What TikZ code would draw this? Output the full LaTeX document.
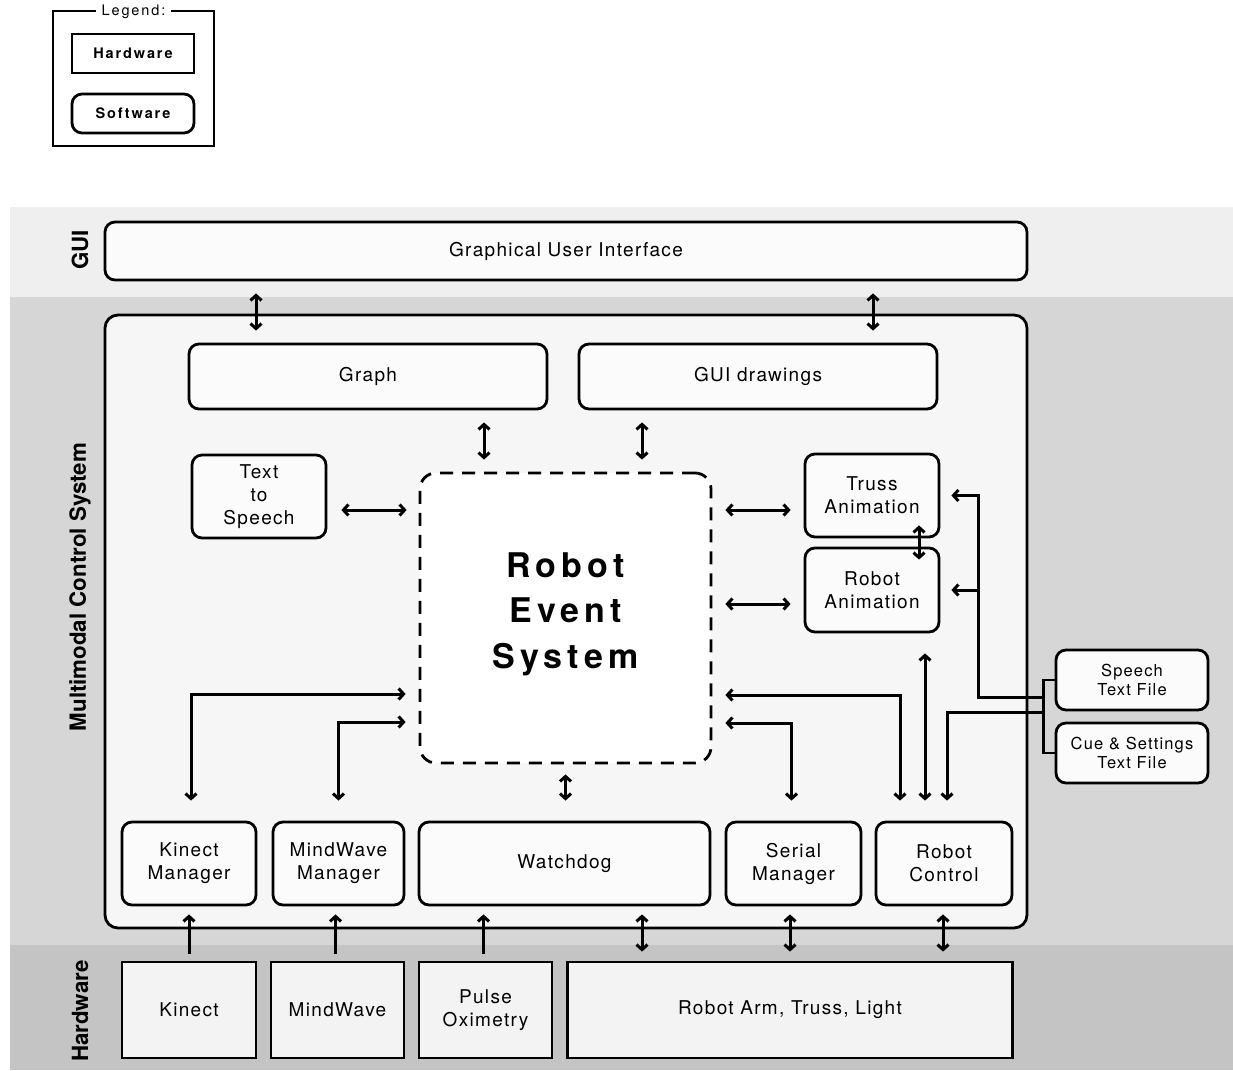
\documentclass[tikz,border=0pt]{standalone}
\usepackage{fontspec}
\setmainfont{TeX Gyre Heros}
\newfontfamily\spacedFont[LetterSpace=7]{TeX Gyre Heros}
\newfontfamily\keyFont[LetterSpace=13]{TeX Gyre Heros}
\newfontfamily\titleFont[LetterSpace=15]{TeX Gyre Heros}
\newcommand{\boxText}{\spacedFont\fontsize{19}{23}\selectfont}
\usepackage{xcolor}
\definecolor{mainDark}{HTML}{000000}
\definecolor{guiBand}{HTML}{EFEFEF}
\definecolor{mcsBand}{HTML}{D6D6D6}
\definecolor{hwBand}{HTML}{C4C4C4}
\definecolor{panelColor}{HTML}{F6F6F6}
\definecolor{swColor}{HTML}{FBFBFB}
\definecolor{hwColor}{HTML}{F3F3F3}
\usepackage{tikz}
\usetikzlibrary{positioning,calc,arrows.meta}
\tikzset{
  swBox/.style={
    rectangle,
    rounded corners=10pt,
    draw=mainDark,
    line width=2.8pt,
    fill=swColor,
    inner sep=0pt,
    align=center,
    font=\boxText
 },
  hwBox/.style={
    rectangle,
    draw=mainDark,
    line width=2.8pt,
    fill=hwColor,
    inner sep=0pt,
    align=center,
    font=\boxText
 },
  groupBox/.style={
    swBox,
    rounded corners=13pt,
    fill=panelColor
 },
  eventBox/.style={
    swBox,
    rounded corners=16pt,
    fill=white,
    dash pattern=on 13pt off 9pt,
    text depth=15pt,
    font=\titleFont\bfseries\fontsize{34}{45.5}\selectfont
 },
  bandLabel/.style={
    rotate=90,
    font=\bfseries\fontsize{22.3}{26}\selectfont
 },
  keyBox/.style={
    minimum width=122pt,
    minimum height=39pt,
    fill=white,
    font=\keyFont\bfseries\fontsize{14.5}{17}\selectfont
 },
  arrowLine/.style={
    line width=3pt,
    color=mainDark,
    >={Straight Barb[length=5pt,width=11pt]},
    shorten <=12pt,
    shorten >=12pt
 },
  linkLine/.style={
    line width=2.8pt,
    color=mainDark
 }
}

\begin{document}
\begin{tikzpicture}[x=1pt,y=-1pt]
  \useasboundingbox (0,0) rectangle (1233,1070);

  % layer bands
  \fill[guiBand] (10,207) rectangle (1233,297);
  \fill[mcsBand] (10,297) rectangle (1233,945);
  \fill[hwBand] (10,945) rectangle (1233,1070);
  \node[bandLabel] (guiLabel) at (80,250) {GUI};
  \node[bandLabel] (mcsLabel) at (80,587) {Multimodal Control System};
  \node[bandLabel] (hwLabel) at (80,1011) {Hardware};

  % legend
  \draw[linkLine] (53,11) rectangle (214,146);
  \node[fill=white, inner xsep=6pt, inner ysep=1pt, font=\keyFont\fontsize{14.5}{17}\selectfont] (legendTitle) at (133.5,12) {Legend:};
  \node[hwBox, keyBox] (hwKey) at (133,53.5) {Hardware};
  \node[swBox, keyBox] (swKey) at (133,113.5) {Software};

  % software
  \node[swBox, minimum width=922pt, minimum height=58pt] (gui) at (566,251) {Graphical User Interface};
  \node[groupBox, minimum width=922pt, minimum height=613pt] (mcs) at (566,621.5) {};
  \node[swBox, minimum width=358pt, minimum height=65pt] (graph) at (368,376.5) {Graph};
  \node[swBox, minimum width=358pt, minimum height=65pt] (guiDraw) at (758,376.5) {GUI drawings};
  \node[swBox, minimum width=134pt, minimum height=83pt] (tts) at (259,496.5) {Text\\to\\Speech};
  \node[eventBox, minimum width=291pt, minimum height=290pt] (res) at (565.5,618) {Robot\\Event\\System};
  \node[swBox, minimum width=134pt, minimum height=83pt] (truss) at (872,495.5) {Truss\\Animation};
  \node[swBox, minimum width=134pt, minimum height=84pt] (robotAnim) at (872,590) {Robot\\Animation};
  \node[swBox, minimum width=152pt, minimum height=60pt, font=\spacedFont\fontsize{16.5}{19}\selectfont] (speechFile) at (1132,680) {Speech\\Text File};
  \node[swBox, minimum width=152pt, minimum height=60pt, font=\spacedFont\fontsize{16.5}{19}\selectfont] (cueFile) at (1132,753) {Cue \& Settings\\Text File};
  \node[swBox, minimum width=134pt, minimum height=83pt] (kinectMgr) at (189,863.5) {Kinect\\Manager};
  \node[swBox, minimum width=131pt, minimum height=83pt] (mindMgr) at (338.5,863.5) {MindWave\\Manager};
  \node[swBox, minimum width=291pt, minimum height=83pt] (watchdog) at (564.5,863.5) {Watchdog};
  \node[swBox, minimum width=135pt, minimum height=83pt] (serialMgr) at (793.5,863.5) {Serial\\Manager};
  \node[swBox, minimum width=136pt, minimum height=83pt] (robotCtrl) at (944,863.5) {Robot\\Control};

  % hardware
  \node[hwBox, minimum width=134pt, minimum height=96pt] (kinect) at (189,1010) {Kinect};
  \node[hwBox, minimum width=133pt, minimum height=96pt] (mindWave) at (337.5,1010) {MindWave};
  \node[hwBox, minimum width=133pt, minimum height=96pt] (pulse) at (485.5,1010) {Pulse\\Oximetry};
  \node[hwBox, minimum width=445pt, minimum height=96pt] (robotArm) at (790,1010) {Robot Arm, Truss, Light};

  % gui links
  \draw[arrowLine, <->] ([xshift=-310pt]gui.south) -- ([xshift=-112pt]graph.north);
  \draw[arrowLine, <->] ([xshift=307pt]gui.south) -- ([xshift=115pt]guiDraw.north);
  \draw[arrowLine, <->] ([xshift=116pt]graph.south) -- ([xshift=-81.5pt]res.north);
  \draw[arrowLine, <->] ([xshift=-116pt]guiDraw.south) -- ([xshift=76.5pt]res.north);

  % event system links
  \draw[arrowLine, <->, shorten <=14pt] ([yshift=-13.5pt]tts.east) -- ([yshift=-13.5pt]tts.east -| res.west);
  \draw[arrowLine, <->, shorten <=13pt, shorten >=13pt] ([yshift=-14.5pt]truss.west -| res.east) -- ([yshift=-14.5pt]truss.west);
  \draw[arrowLine, <->, shorten <=13pt, shorten >=13pt] ([yshift=-14pt]robotAnim.west -| res.east) -- ([yshift=-14pt]robotAnim.west);
  \draw[arrowLine, <->, shorten <=-13pt, shorten >=-13pt] ([xshift=47pt]truss.south) -- ([xshift=47pt]robotAnim.north);
  \draw[arrowLine, <->, shorten <=20pt, shorten >=13pt] ([xshift=2pt]kinectMgr.north) |- ([yshift=-76pt]res.west);
  \draw[arrowLine, <->, shorten <=20pt, shorten >=13pt] (mindMgr.north) |- ([yshift=-104pt]res.west);
  \draw[arrowLine, <->, shorten <=10pt, shorten >=20pt] (res.south) -- (res.south |- watchdog.north);
  \draw[arrowLine, <->, shorten <=20pt, shorten >=13pt] ([xshift=-2pt]serialMgr.north) |- ([yshift=-105pt]res.east);
  \draw[arrowLine, <->, shorten <=20pt, shorten >=13pt] ([xshift=-44pt]robotCtrl.north) |- ([yshift=-77pt]res.east);
  \draw[arrowLine, <->, shorten <=20pt, shorten >=20pt] ([xshift=53pt]robotAnim.south) -- ([xshift=53pt]robotAnim.south |- robotCtrl.north);

  % text files
  \coordinate (fileBus) at ([xshift=-11pt]speechFile.west);
  \draw[linkLine] (speechFile.west) -- (fileBus) |- (cueFile.west);
  \draw[arrowLine, ->, shorten <=0pt, shorten >=11pt] ([yshift=-17pt]fileBus) -| ([xshift=38pt]truss.east) -- (truss.east);
  \draw[arrowLine, ->, shorten <=0pt, shorten >=11pt] ([xshift=38pt]truss.east |- robotAnim.east) -- (robotAnim.east);
  \draw[arrowLine, ->, shorten <=0pt, shorten >=20pt] ([yshift=-32pt]fileBus) -| ([xshift=3pt]robotCtrl.north);

  % hardware links
  \draw[arrowLine, ->, shorten <=7pt, shorten >=8pt] (kinect.north) -- (kinectMgr.south);
  \draw[arrowLine, ->, shorten <=7pt, shorten >=8pt] ([xshift=-2pt]mindWave.north) -- ([xshift=-2pt]mindWave.north |- mindMgr.south);
  \draw[arrowLine, ->, shorten <=7pt, shorten >=8pt] ([xshift=-2pt]pulse.north) -- ([xshift=-2pt]pulse.north |- watchdog.south);
  \draw[arrowLine, <->, shorten <=9pt, shorten >=8pt] ([xshift=-148pt]robotArm.north) -- ([xshift=-148pt]robotArm.north |- watchdog.south);
  \draw[arrowLine, <->, shorten <=9pt, shorten >=8pt] (robotArm.north) -- (robotArm.north |- serialMgr.south);
  \draw[arrowLine, <->, shorten <=8pt, shorten >=9pt] ([xshift=-1pt]robotCtrl.south) -- ([xshift=-1pt]robotCtrl.south |- robotArm.north);
\end{tikzpicture}
\end{document}
